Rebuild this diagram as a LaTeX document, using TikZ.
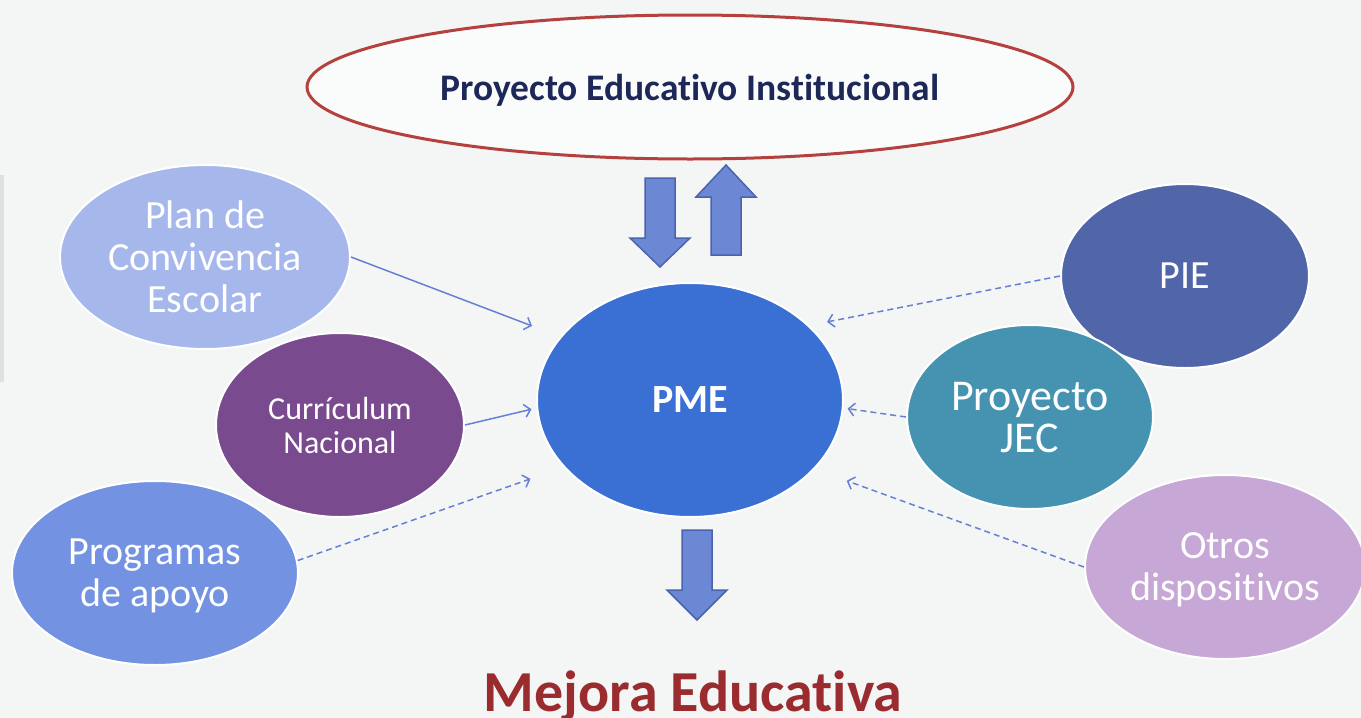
\documentclass[tikz,border=0pt]{standalone}
\usepackage{fontspec}
\setmainfont[Ligatures=NoCommon]{Carlito}
\usetikzlibrary{shapes.geometric,arrows.meta}

\definecolor{bgcol}{HTML}{F4F6F6}
\definecolor{ellred}{HTML}{B5413F}
\definecolor{navy}{HTML}{1E2858}
\definecolor{mejred}{HTML}{9A2B2E}
\definecolor{linkblue}{HTML}{6680D4}
\definecolor{arrfill}{HTML}{6C88D5}
\definecolor{arrdraw}{HTML}{4A63AE}
\definecolor{plancol}{HTML}{A6B7EC}
\definecolor{currcol}{HTML}{7A4A8E}
\definecolor{progcol}{HTML}{7392E2}
\definecolor{pmecol}{HTML}{3A6FD3}
\definecolor{piecol}{HTML}{5166A9}
\definecolor{jeccol}{HTML}{4593B0}
\definecolor{otroscol}{HTML}{C6A7D5}

% block arrow: x centre, tail y, head base y, tip y
\newcommand{\fatarrow}[4]{%
  \draw[blockarr] (#1-15,#2) -- (#1+15,#2) -- (#1+15,#3) -- (#1+30,#3) -- (#1,#4) -- (#1-30,#3) -- (#1-15,#3) -- cycle;}

\begin{document}
\begin{tikzpicture}[x=1pt,y=-1pt,
    bubble/.style={ellipse,draw=white,line width=2pt,text=white,align=center,inner sep=0pt,text depth=0pt,
      font=\fontsize{40}{42}\selectfont},
    link/.style={draw=linkblue,line width=1.5pt,-{Straight Barb[length=6pt,width=13pt]}},
    dlink/.style={link,dash pattern=on 6pt off 4pt},
    blockarr/.style={fill=arrfill,draw=arrdraw,line width=1.5pt,line join=miter}]
    \fill[bgcol] (0,0) rectangle (1361,718);
    \useasboundingbox (0,0) rectangle (1361,718);
    \fill[black!12] (0,175) rectangle (4,382);

    %top node
    \node[ellipse,draw=ellred,line width=3pt,fill=white!55!bgcol,minimum width=766pt,minimum height=144pt,
      text=navy,text depth=0pt,font=\fontsize{37.5}{40}\selectfont\bfseries] (pei) at (690,87) {Proyecto Educativo Institucional};

    \fatarrow{660}{178}{238}{267}
    \fatarrow{726}{255}{197}{165}
    \fatarrow{697}{530}{590}{620}

    %central node
    \node[bubble,fill=pmecol,minimum width=306pt,minimum height=234pt,font=\fontsize{40}{42}\selectfont\bfseries] (pme) at (690,400) {PME};

    \node[bubble,fill=plancol,minimum width=290pt,minimum height=184pt] (plan) at (205,257) {Plan de\\Convivencia\\Escolar};
    \node[bubble,fill=currcol,minimum width=248pt,minimum height=184pt,font=\fontsize{32}{34}\selectfont] (curr) at (340,425) {Currículum\\Nacional};
    \node[bubble,fill=progcol,minimum width=286pt,minimum height=184pt] (prog) at (155,573) {Programas\\de apoyo};
    \node[bubble,fill=piecol,minimum width=248pt,minimum height=184pt] (pie) at (1185,276) {PIE};
    \node[bubble,fill=jeccol,minimum width=246pt,minimum height=184pt,font=\fontsize{44}{42}\selectfont] (jec) at (1030,417) {Proyecto\\JEC};
    \node[bubble,fill=otroscol,minimum width=280pt,minimum height=184pt] (otros) at (1225,567) {Otros\\dispositivos};

    % links into PME
    \draw[link,shorten >=30pt] (plan.east) -- (pme.154);
    \draw[link,shorten >=5pt] (curr.east) -- (pme.183);
    \draw[dlink,shorten >=35pt] (prog.5) -- (pme.208);
    \draw[dlink,shorten >=18pt] (pie.west) -- (pme.32);
    \draw[dlink,shorten >=4pt] (jec.west) -- (pme.-3);
    \draw[dlink,shorten >=34pt] (otros.west) -- (pme.-29);

    \node[anchor=base,text=mejred,font=\fontsize{58}{60}\selectfont\bfseries] (mejora) at (693,711) {Mejora Educativa};
\end{tikzpicture}
\end{document}
